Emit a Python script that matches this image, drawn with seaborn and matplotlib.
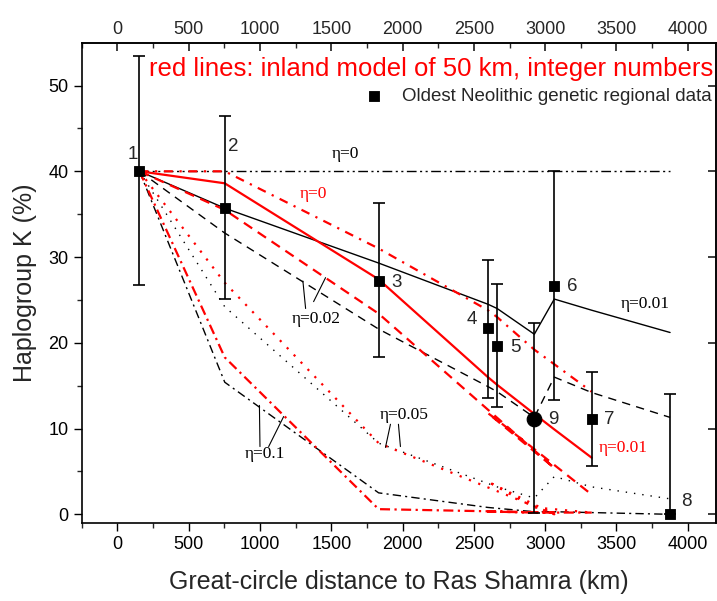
import numpy as np
import matplotlib.pyplot as plt
import seaborn as sns
import pandas as pd

# ---- data ----
site_id = ["1", "2", "3", "4", "5", "6", "7", "8", "9"]
site_km = [155, 753, 1832, 2598, 2663, 3064, 3326, 3876, 2924]
k_pct = [40.0, 35.7, 27.2, 21.7, 19.6, 26.6, 11.1, 0.0, 11.1]
k_low = [26.7, 25.1, 18.3, 13.6, 12.5, 13.3, 5.6, 0.0, 0.2]
k_high = [53.4, 46.5, 36.3, 29.7, 26.8, 40.0, 16.6, 14.0, 22.3]
# where the site numbers are written
label_km = [109, 816, 1957, 2488, 2790, 3190, 3449, 3988, 3057]
label_pct = [42.0, 42.9, 27.0, 22.7, 19.5, 26.6, 11.0, 1.5, 11.0]

# coastal model (black), sites sorted by distance
model_km = [155, 753, 1832, 2598, 2663, 2924, 3064, 3326, 3876]
black_eta0 = [40, 40, 40, 40, 40, 40, 40, 40, 40]
black_eta001 = [40, 35.7, 29.3, 24.5, 24.0, 21.0, 25.1, 23.8, 21.2]
black_eta002 = [40, 32.8, 21.6, 14.9, 14.3, 11.3, 16.0, 14.2, 11.3]
black_eta005 = [40, 24.2, 8.3, 3.6, 3.2, 1.9, 4.4, 3.2, 1.8]
black_eta01 = [40, 15.4, 2.5, 0.8, 0.7, 0.3, 0.3, 0.2, 0.0]

# inland model (red): sites 1,2,3,6,4,5,9,7 (inland order, site 8 missing)
red_km = [155, 753, 1832, 3064, 2598, 2663, 2924, 3326]
red_eta0 = [40, 40, 31.0, 17.5, 23.8, 23.0, 19.2, 14.3]
red_eta001 = [40, 38.6, 27.4, 9.9, 16.0, 15.1, 11.7, 6.6]
red_eta002 = [40, 35.5, 23.4, 5.4, 11.8, 11.0, 7.6, 2.3]
red_eta005 = [40, 27.0, 8.3, 0.0, 3.8, 3.2, 0.8, 0.2]
red_eta01 = [40, 18.3, 0.6, 0.2, 0.3, 0.3, 0.2, 0.2]

sns.set_theme(style="ticks")
plt.rcParams['font.family'] = ['Liberation Sans', 'DejaVu Sans']

fig = plt.figure(figsize=(7.17, 6.01), dpi=100)
ax = fig.add_axes([0.114, 0.13, 0.885, 0.799])

dd = (0, (7, 2.5, 1.5, 2.5, 1.5, 2.5))      # dash-dot-dot
black_styles = [
    (black_eta0, dd),
    (black_eta001, '-'),
    (black_eta002, (0, (6, 4.5))),
    (black_eta005, (0, (1, 5))),
    (black_eta01, (0, (6, 3, 1.5, 3))),
]
for vals, ls in black_styles:
    sns.lineplot(x=model_km, y=vals, ax=ax, color='black', lw=1.0,
                 linestyle=ls, sort=False)

# eta=0 and eta=0.01 are monotonic, drawn by distance; the others keep inland order
red_styles = [
    (red_eta0, (0, (4, 3, 1, 3)), True),
    (red_eta001, '-', True),
    (red_eta002, (0, (4.5, 3)), False),
    (red_eta005, (0, (1, 3.5)), False),
    (red_eta01, (0, (4.5, 2, 1, 2)), False),
]
for vals, ls, srt in red_styles:
    sns.lineplot(x=red_km, y=vals, ax=ax, color='red', lw=1.6,
                 linestyle=ls, sort=srt)

# data with error bars
df = pd.DataFrame({"site": site_id, "km": site_km, "K": k_pct,
                   "lo": k_low, "hi": k_high})
yerr = [df["K"] - df["lo"], df["hi"] - df["K"]]
ax.errorbar(df["km"], df["K"], yerr=yerr, fmt='none', ecolor='black',
            elinewidth=1.2, capsize=4, capthick=1.2, zorder=5)
sq = df[df["site"] != "9"]
sns.scatterplot(data=sq, x="km", y="K", ax=ax, marker='s', color='black',
                s=60, edgecolor='black', zorder=6,
                label="Oldest Neolithic genetic regional data")
circ = df[df["site"] == "9"]
sns.scatterplot(data=circ, x="km", y="K", ax=ax, marker='o', color='black',
                s=110, edgecolor='black', zorder=6, legend=False)

# site numbers
for s, x, y in zip(site_id, label_km, label_pct):
    ax.text(x, y, s, ha='center', va='center', fontsize=13.5)

# eta labels (serif)
serif = ['Liberation Serif', 'DejaVu Serif']
eta_txt = [
    (1600, 42.0, "η=0", 'black'), (1376, 37.3, "η=0", 'red'),
    (3700, 24.5, "η=0.01", 'black'), (3545, 7.7, "η=0.01", 'red'),
    (1398, 22.8, "η=0.02", 'black'), (2012, 11.6, "η=0.05", 'black'),
    (1033, 7.0, "η=0.1", 'black'),
]
for x, y, s, c in eta_txt:
    ax.text(x, y, s, family=serif, fontsize=12.5, ha='center', va='center', color=c)

# pointer lines from labels to curves
pointers = [
    ((1320, 24.0), (1301, 27.2)), ((1376, 24.8), (1460, 27.6)),
    ((1915, 10.5), (1880, 7.8)), ((1971, 10.5), (1985, 7.9)),
    ((1000, 7.9), (996, 12.7)), ((1061, 7.9), (1166, 11.4)),
]
for (x0, y0), (x1, y1) in pointers:
    ax.plot([x0, x1], [y0, y1], color='black', lw=0.8)

ax.text(2203, 51.9, "red lines: inland model of 50 km, integer numbers",
        color='red', fontsize=18.5, ha='center', va='center')

leg = ax.legend(loc='center right', bbox_to_anchor=(1.005, 0.888), frameon=False,
                fontsize=13.5, handletextpad=0.5, borderaxespad=0.0,
                markerscale=1.0)

ax.set_xlim(-250, 4200)
ax.set_ylim(-1, 55)
ax.set_xticks(np.arange(0, 4001, 500))
ax.set_yticks(np.arange(0, 51, 10))
ax.set_xticks(np.arange(-250, 4200, 250), minor=True)
ax.set_yticks(np.arange(0, 55, 5), minor=True)
ax.tick_params(axis='both', which='major', direction='out', length=6,
               width=1, labelsize=13, colors='black')
ax.tick_params(axis='both', which='minor', direction='out', length=3.5, width=1)
for sp in ax.spines.values():
    sp.set_color('black')
    sp.set_linewidth(1.2)

top = ax.secondary_xaxis('top')
top.set_xticks(np.arange(0, 4001, 500))
top.set_xticks(np.arange(-250, 4200, 250), minor=True)
top.tick_params(which='major', direction='in', length=6, labelsize=13)
top.tick_params(which='minor', direction='in', length=3.5)
right = ax.secondary_yaxis('right')
right.set_yticks(np.arange(0, 51, 10))
right.tick_params(direction='in', length=6, labelright=False)

ax.set_xlabel("Great-circle distance to Ras Shamra (km)", fontsize=18, labelpad=12)
ax.set_ylabel("Haplogroup K (%)", fontsize=18, labelpad=8)

fig.savefig("out.png", dpi=100)
